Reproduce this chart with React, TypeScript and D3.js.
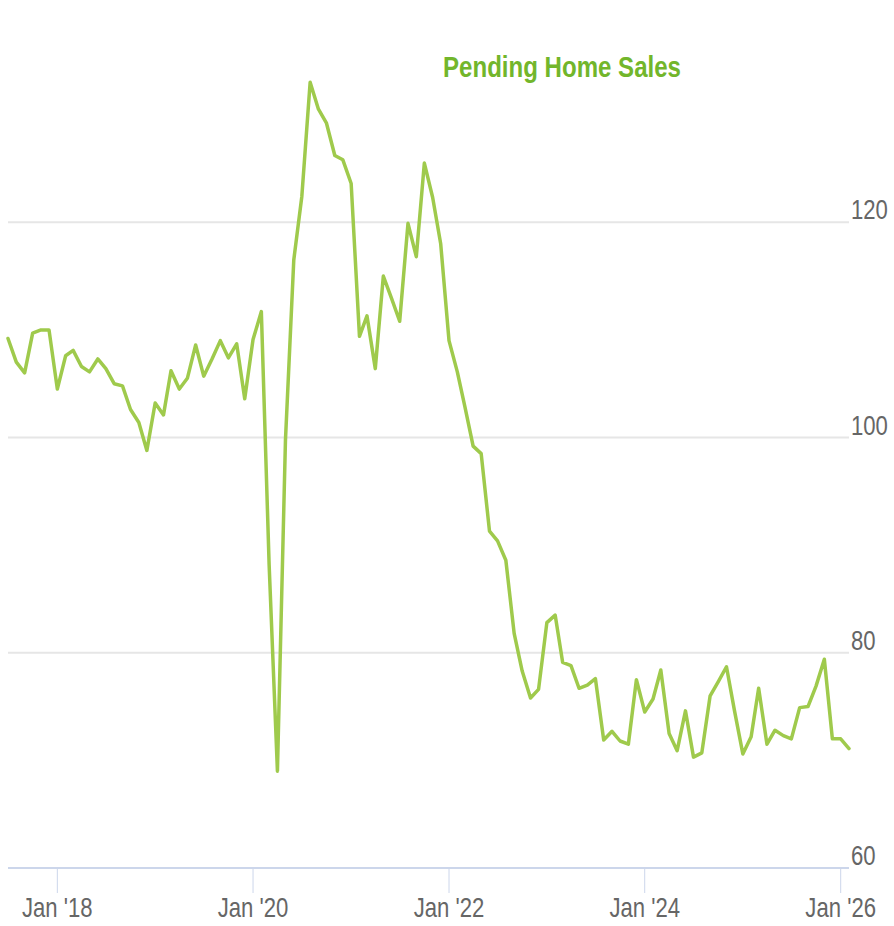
import React from "react";
import * as d3 from "d3";

const startYear = 2017;
const startMonth = 6; // July (0-based)

const values2017 = [109.2, 107.0, 106.0, 109.7, 110.0, 110.0];
const values2018 = [104.5, 107.6, 108.1, 106.6, 106.1, 107.3, 106.4, 105.0, 104.8, 102.6, 101.4, 98.8];
const values2019 = [103.2, 102.1, 106.2, 104.5, 105.5, 108.6, 105.7, 107.3, 109.0, 107.4, 108.7, 103.6];
const values2020 = [109.1, 111.7, 88.2, 69.0, 99.8, 116.5, 122.4, 133.0, 130.5, 129.2, 126.2, 125.8];
const values2021 = [123.6, 109.4, 111.3, 106.4, 115.0, 112.9, 110.8, 119.9, 116.8, 125.5, 122.3, 118.0];
const values2022 = [109.0, 106.1, 102.9, 99.2, 98.5, 91.3, 90.4, 88.6, 81.8, 78.3, 75.8, 76.6];
const values2023 = [82.8, 83.5, 79.1, 78.8, 76.7, 77.0, 77.6, 71.9, 72.7, 71.8, 71.5, 77.5];
const values2024 = [74.5, 75.7, 78.4, 72.5, 70.9, 74.6, 70.3, 70.7, 76.0, 77.3, 78.7, 74.6];
const values2025 = [70.6, 72.2, 76.7, 71.5, 72.8, 72.3, 72.0, 74.9, 75.0, 76.9, 79.4, 72.0];
const values2026 = [72.0, 71.1];

const yTicks = [60, 80, 100, 120];
const xTickYears = [2018, 2020, 2022, 2024, 2026];
const title = "Pending Home Sales";

const allValues = [
  ...values2017, ...values2018, ...values2019, ...values2020, ...values2021,
  ...values2022, ...values2023, ...values2024, ...values2025, ...values2026,
];
const data = allValues.map((v, i) => ({ date: new Date(startYear, startMonth + i, 1), value: v }));

const W = 894;
const H = 926;
const plotLeft = 8;
const plotRight = 849;
const plotBottom = 868;
const plotTop = 7;

const FONT = "'Liberation Sans', Arial, sans-serif";
const NARROW = 0.82;

export default function App() {
  const x = d3
    .scaleTime()
    .domain([data[0].date, data[data.length - 1].date])
    .range([plotLeft, plotRight]);
  const y = d3.scaleLinear().domain([60, 140]).range([plotBottom, plotTop]);
  const line = d3
    .line<{ date: Date; value: number }>()
    .x((d) => x(d.date))
    .y((d) => y(d.value));
  const fmt = d3.timeFormat("%b '%y");

  return (
    <svg
      width={W}
      height={H}
      style={{ position: "absolute", left: 0, top: 0, display: "block" }}
    >
      <rect width={W} height={H} fill="#ffffff" />
      {yTicks
        .filter((t) => t !== 60)
        .map((t) => (
          <line key={t} x1={plotLeft} x2={plotRight} y1={y(t)} y2={y(t)} stroke="#e6e6e6" strokeWidth={2} />
        ))}
      {yTicks.map((t) => (
        <text
          key={"l" + t}
          transform={`translate(${plotRight + 2},${y(t) - 3}) scale(${NARROW},1)`}
          fontFamily={FONT}
          fontSize={27}
          fill="#666666"
        >
          {t}
        </text>
      ))}
      <line x1={plotLeft} x2={plotRight} y1={plotBottom} y2={plotBottom} stroke="#ccd6eb" strokeWidth={2} />
      {xTickYears.map((yr) => {
        const d = new Date(yr, 0, 1);
        const px = x(d);
        return (
          <g key={yr}>
            <line x1={px} x2={px} y1={plotBottom} y2={plotBottom + 25} stroke="#ccd6eb" strokeWidth={1} />
            <text
              transform={`translate(${px},917) scale(${NARROW},1)`}
              textAnchor="middle"
              fontFamily={FONT}
              fontSize={27}
              fill="#666666"
            >
              {fmt(d)}
            </text>
          </g>
        );
      })}
      <path
        d={line(data) || ""}
        fill="none"
        stroke="#9fca4c"
        strokeWidth={3.5}
        strokeLinejoin="round"
        strokeLinecap="round"
      />
      <text
        transform={`translate(562,77) scale(0.83,1)`}
        textAnchor="middle"
        fontFamily={FONT}
        fontWeight="bold"
        fontSize={29}
        fill="#72b62b"
      >
        {title}
      </text>
    </svg>
  );
}
